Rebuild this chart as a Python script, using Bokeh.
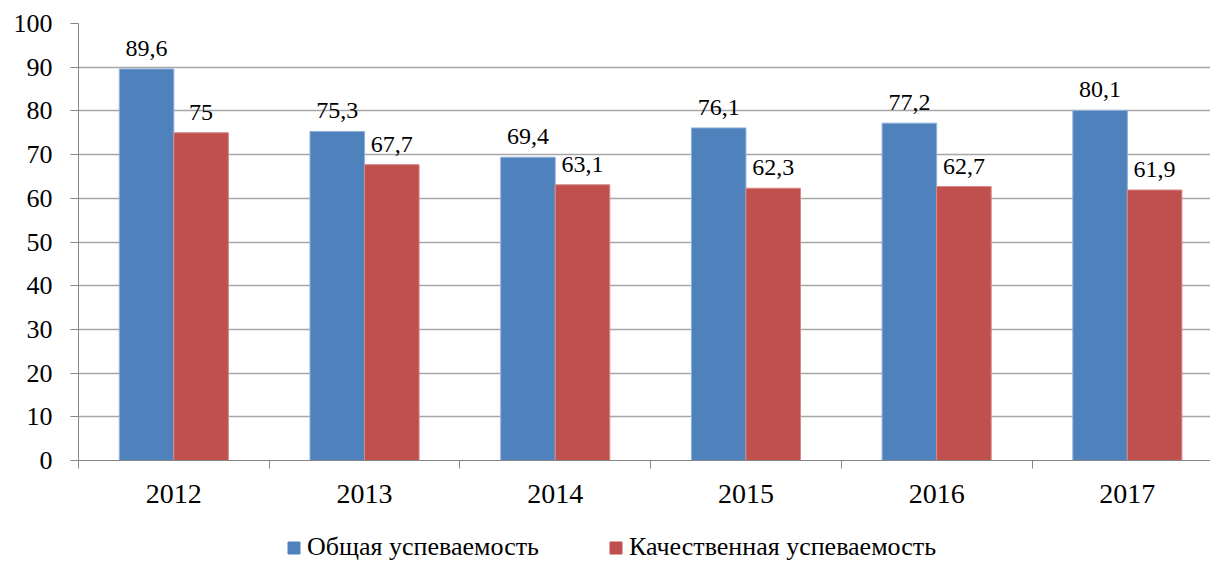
from bokeh.plotting import figure
from bokeh.layouts import column
from bokeh.models import ColumnDataSource, FixedTicker, Range1d, Legend, LegendItem
from bokeh.core.properties import value
from bokeh.embed import file_html
from bokeh.resources import INLINE

years = ["2012", "2013", "2014", "2015", "2016", "2017"]
general = [89.6, 75.3, 69.4, 76.1, 77.2, 80.1]
quality = [75, 67.7, 63.1, 62.3, 62.7, 61.9]
series_names = ["Общая успеваемость", "Качественная успеваемость"]
colors = ["#4F81BD", "#C0504D"]
edge_colors = ["#8FB0D8", "#D48A88"]

FONT = "Liberation Serif"

def fmt(v):
    s = ("%g" % v)
    return s.replace(".", ",")

centers = [i + 0.5 for i in range(len(years))]
bw = 0.286
src_g = ColumnDataSource(dict(x=[c - bw / 2 for c in centers], top=general,
                              lab=[fmt(v) for v in general]))
src_q = ColumnDataSource(dict(x=[c + bw / 2 for c in centers], top=quality,
                              lab=[fmt(v) for v in quality]))

p = figure(width=1210, height=515, output_backend="svg", toolbar_location=None,
           x_range=Range1d(0, 5.936), y_range=Range1d(0, 100),
           min_border_left=78, min_border_right=0, min_border_top=23,
           min_border_bottom=55, outline_line_color=None)

r1 = p.vbar(x="x", top="top", width=bw, source=src_g, fill_color=colors[0],
            line_color=edge_colors[0], line_width=1)
r2 = p.vbar(x="x", top="top", width=bw, source=src_q, fill_color=colors[1],
            line_color=edge_colors[1], line_width=1)

for src in (src_g, src_q):
    p.text(x="x", y="top", text="lab", source=src, text_align="center",
           text_baseline="bottom", y_offset=-13, text_font=value(FONT),
           text_font_size="24px", text_color="#000000")

# y axis
p.yaxis.ticker = FixedTicker(ticks=list(range(0, 101, 10)))
p.yaxis.axis_line_color = "#868686"
p.yaxis.major_tick_line_color = "#868686"
p.yaxis.major_tick_out = 8
p.yaxis.major_tick_in = 0
p.yaxis.minor_tick_line_color = None
p.yaxis.major_label_text_font = FONT
p.yaxis.major_label_text_font_size = "26px"
p.yaxis.major_label_text_color = "#000000"
p.yaxis.major_label_standoff = 18

# x axis
p.xaxis.ticker = FixedTicker(ticks=centers, minor_ticks=list(range(0, 7)))
p.xaxis.major_label_overrides = {c: y for c, y in zip(centers, years)}
p.xaxis.axis_line_color = "#868686"
p.xaxis.major_tick_line_color = None
p.xaxis.major_tick_out = 0
p.xaxis.major_tick_in = 0
p.xaxis.minor_tick_line_color = "#868686"
p.xaxis.minor_tick_out = 8
p.xaxis.minor_tick_in = 0
p.xaxis.major_label_text_font = FONT
p.xaxis.major_label_text_font_size = "28px"
p.xaxis.major_label_text_color = "#000000"
p.xaxis.major_label_standoff = 16

p.xgrid.grid_line_color = None
p.ygrid.grid_line_color = "#A6A6A6"
p.ygrid.grid_line_width = 1.3

# legend strip (legend entries reuse the series' colours)
lg = figure(width=1210, height=47, output_backend="svg", toolbar_location=None,
            x_range=Range1d(0, 1), y_range=Range1d(0, 1),
            min_border_left=0, min_border_right=0, min_border_top=0,
            min_border_bottom=0, outline_line_color=None)
lg.axis.visible = False
lg.grid.visible = False
legend_x = [208, 530]  # relative to the frame, which is aligned with the chart's
for name, col, lx in zip(series_names, colors, legend_x):
    # glyph placed outside the visible range: only its legend swatch shows
    r = lg.vbar(x=[5.0], top=[5.0], bottom=[4.0], width=0.1,
                fill_color=col, line_color=col)
    leg = Legend(items=[LegendItem(label=name, renderers=[r])],
                 location=(lx, 0), label_text_font=FONT,
                 label_text_font_size="26px", label_text_color="#000000",
                 glyph_width=15, glyph_height=15, label_standoff=6,
                 border_line_color=None, background_fill_alpha=0,
                 padding=0, margin=0)
    lg.add_layout(leg, "center")

layout = column(p, lg, spacing=0)
open("out.html", "w").write(file_html(layout, INLINE))
